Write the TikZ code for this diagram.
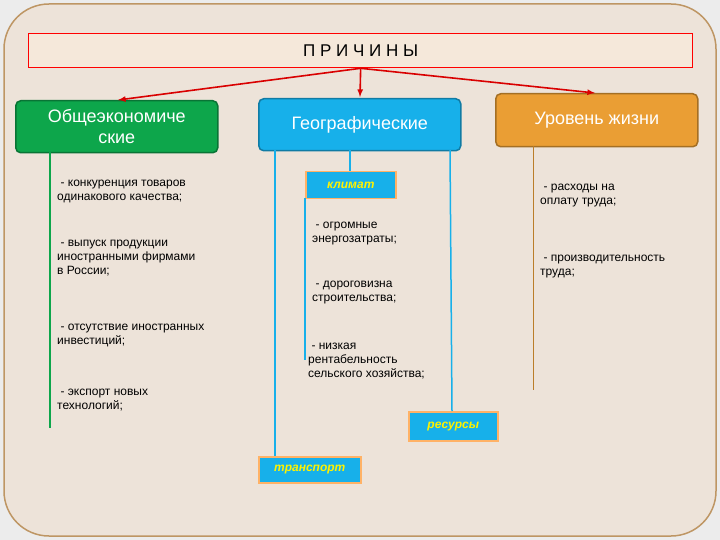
\documentclass[tikz,border=0pt]{standalone}
\usepackage{fontspec}
\setmainfont{Liberation Sans}
\begin{document}
\begin{tikzpicture}[x=1pt,y=-1pt,
  hd/.style={draw=#1!70!black,line width=1.5pt,rounded corners=5pt,fill=#1,text=white,font=\fontsize{18}{21}\selectfont,align=center,anchor=north west,inner sep=2pt},
  tag/.style={draw=orange!60,line width=1.5pt,fill=cyanb,text=yellow,font=\bfseries\itshape\fontsize{12}{14}\selectfont,anchor=north west,inner sep=0pt},
  txt/.style={font=\fontsize{12}{14}\selectfont,align=left,anchor=north west,inner sep=0pt},
  arr/.style={red!85!black,line width=1.6pt,-latex}]
\definecolor{bg}{HTML}{EDE3D9}
\definecolor{cyanb}{HTML}{17B0EA}
\definecolor{gr}{HTML}{0DA64B}
\definecolor{og}{HTML}{EA9E34}
\useasboundingbox (0,0) rectangle (720,540);
\fill[white!70!gray!50] (0,0) rectangle (720,540);
\draw[fill=bg,draw={rgb,255:red,190;green,150;blue,100},line width=1.5pt,rounded corners=45pt] (4,4) rectangle (716,536);
\node[draw=red,line width=1.3pt,fill={rgb,255:red,245;green,232;blue,218},minimum width=664pt,minimum height=34pt,anchor=north west,inner sep=0pt,font=\fontsize{17}{20}\selectfont] (t) at (28,33) {П Р И Ч И Н Ы};
\node[hd=gr,minimum width=202pt,minimum height=52pt] (g) at (15,100) {Общеэкономиче\\ские};
\node[hd=cyanb,minimum width=202pt,minimum height=52pt] (b) at (258,98) {Географические};
\node[hd=og,minimum width=202pt,minimum height=53pt] (o) at (495,93) {Уровень жизни};
\draw[arr] (t.south) -- (118,100) coordinate (ga);
\draw[arr] (t.south) -- (360,97);
\draw[arr] (t.south) -- (595,93);
\node[tag,minimum width=90pt,minimum height=27pt] (k) at (305,171) {климат};
\node[tag,minimum width=89pt,minimum height=29pt] (r) at (408,411) {ресурсы};
\node[tag,minimum width=102pt,minimum height=26pt] (tr) at (258,456) {транспорт};
\draw[gr,line width=1.5pt] (50,152) -- (50,428);
\draw[cyanb,line width=1.5pt] (275,150) -- (275,456);
\draw[cyanb,line width=1.5pt] (350,150) -- (350,171);
\draw[cyanb,line width=1.5pt] (450,150) -- (452,411);
\draw[cyanb,line width=1.5pt] (305,198) -- (305,360);
\draw[og!80!black,line width=1pt] (533,146) -- (533,390);
\node[txt] at (57,180) {\ - конкуренция товаров\\одинакового качества;};
\node[txt] at (57,240) {\ - выпуск продукции\\иностранными фирмами\\в России;};
\node[txt] at (57,324) {\ - отсутствие иностранных\\инвестиций;};
\node[txt] at (57,389) {\ - экспорт новых\\технологий;};
\node[txt] at (312,222) {\ - огромные\\энергозатраты;};
\node[txt] at (312,281) {\ - дороговизна\\строительства;};
\node[txt] at (308,343) {\ - низкая\\рентабельность\\сельского хозяйства;};
\node[txt] at (540,184) {\ - расходы на\\оплату труда;};
\node[txt] at (540,255) {\ - производительность\\труда;};
\end{tikzpicture}
\end{document}
